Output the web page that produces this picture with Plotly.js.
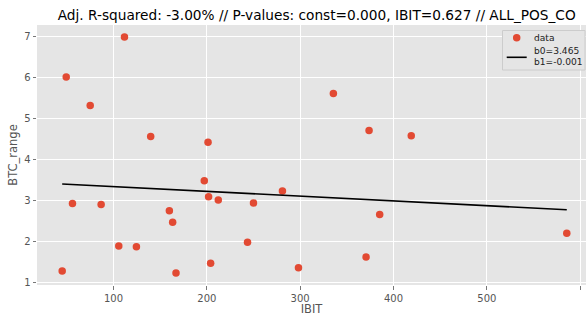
<!DOCTYPE html>
<html>
<head>
<meta charset="utf-8">
<script src="https://cdn.plot.ly/plotly-3.0.1.min.js"></script>
<style>html,body{margin:0;padding:0;background:#fff;}#chart{width:586px;height:316px;}</style>
</head>
<body>
<div id="chart"></div>
<script>
const ibit = [49.4, 75.1, 111.8, 139.9, 201.3, 56.1, 86.8, 45.1, 105.7, 124.6, 159.9, 163.4, 167.0, 197.3, 201.9, 204.1, 212.3, 335.6, 373.8, 419.0, 281.0, 250.0, 243.6, 385.2, 370.6, 298.2, 585.6];
const btcRange = [6.02, 5.33, 7.00, 4.57, 4.43, 2.94, 2.91, 1.29, 1.90, 1.88, 2.76, 2.48, 1.24, 3.49, 3.10, 1.48, 3.02, 5.62, 4.72, 4.59, 3.24, 2.95, 1.99, 2.67, 1.63, 1.37, 2.21];
const b0 = 3.465;
const b1 = -0.00116;
const seriesName = "data";
const b0Label = "b0=3.465";
const b1Label = "b1=-0.001";
const titleText = "Adj. R-squared: -3.00% // P-values: const=0.000, IBIT=0.627 // ALL_POS_CO";
const xTicks = [100, 200, 300, 400, 500, 600];
const yTicks = [1, 2, 3, 4, 5, 6, 7];

const xMin = Math.min(...ibit), xMax = Math.max(...ibit);
const lineX = [xMin, xMax];
const lineY = lineX.map(v => b0 + b1 * v);

const W = 586, H = 316;
const M = {l: 37, r: 0, t: 25, b: 31};
const pw = W - M.l - M.r, ph = H - M.t - M.b;
const px = v => (v - M.l) / pw;   // pixel -> paper x
const py = v => (H - M.b - v) / ph; // pixel -> paper y

const font = "DejaVu Sans, sans-serif";
const red = '#E24A33';
const data = [
  {x: ibit, y: btcRange, mode: 'markers', type: 'scatter', name: seriesName, showlegend: false,
   marker: {color: red, size: 7.5}},
  {x: lineX, y: lineY, mode: 'lines', type: 'scatter', name: b0Label, showlegend: false,
   line: {color: '#000', width: 1.6}}
];
const axisCommon = {
  showgrid: true, gridcolor: '#ffffff', gridwidth: 1, zeroline: false,
  ticks: 'outside', ticklen: 3.5, tickcolor: '#555', tickwidth: 0.8,
  tickfont: {family: font, size: 10, color: '#555'}, showline: false
};
const legFont = {family: font, size: 9.1, color: '#222'};
const layout = {
  width: W, height: H,
  margin: M,
  paper_bgcolor: '#ffffff', plot_bgcolor: '#E5E5E5',
  title: {text: titleText, font: {family: font, size: 13.7, color: '#000'}, xref: 'paper', x: px(316.7), xanchor: 'center', y: 0.953, yref: 'container', yanchor: 'middle'},
  xaxis: Object.assign({}, axisCommon, {range: [18.1, 606.2], tickvals: xTicks,
    title: {text: 'IBIT', font: {family: font, size: 11.5, color: '#555'}, standoff: 7}}),
  yaxis: Object.assign({}, axisCommon, {range: [0.95, 7.29], tickvals: yTicks,
    title: {text: 'BTC_range', font: {family: font, size: 11.5, color: '#555'}, standoff: 4}}),
  showlegend: false,
  shapes: [
    {type: 'rect', xref: 'paper', yref: 'paper', x0: px(502.5), x1: px(585), y0: py(70), y1: py(30.5),
     fillcolor: '#E5E5E5', line: {color: '#CCCCCC', width: 1}, layer: 'above'},
    {type: 'circle', xref: 'paper', yref: 'paper', xsizemode: 'pixel', ysizemode: 'pixel',
     xanchor: px(516.7), yanchor: py(37.7), x0: -3.75, x1: 3.75, y0: -3.75, y1: 3.75,
     fillcolor: red, line: {width: 0}, layer: 'above'},
    {type: 'line', xref: 'paper', yref: 'paper', x0: px(506.7), x1: px(526.7), y0: py(57.3), y1: py(57.3),
     line: {color: '#000', width: 1.6}, layer: 'above'}
  ],
  annotations: [
    {text: seriesName, xref: 'paper', yref: 'paper', x: px(532), y: py(38), xanchor: 'left', yanchor: 'middle', showarrow: false, font: legFont},
    {text: b0Label, xref: 'paper', yref: 'paper', x: px(532), y: py(51.5), xanchor: 'left', yanchor: 'middle', showarrow: false, font: legFont},
    {text: b1Label, xref: 'paper', yref: 'paper', x: px(532), y: py(62), xanchor: 'left', yanchor: 'middle', showarrow: false, font: legFont}
  ]
};
Plotly.newPlot('chart', data, layout, {displayModeBar: false, staticPlot: true});
</script>
</body>
</html>
